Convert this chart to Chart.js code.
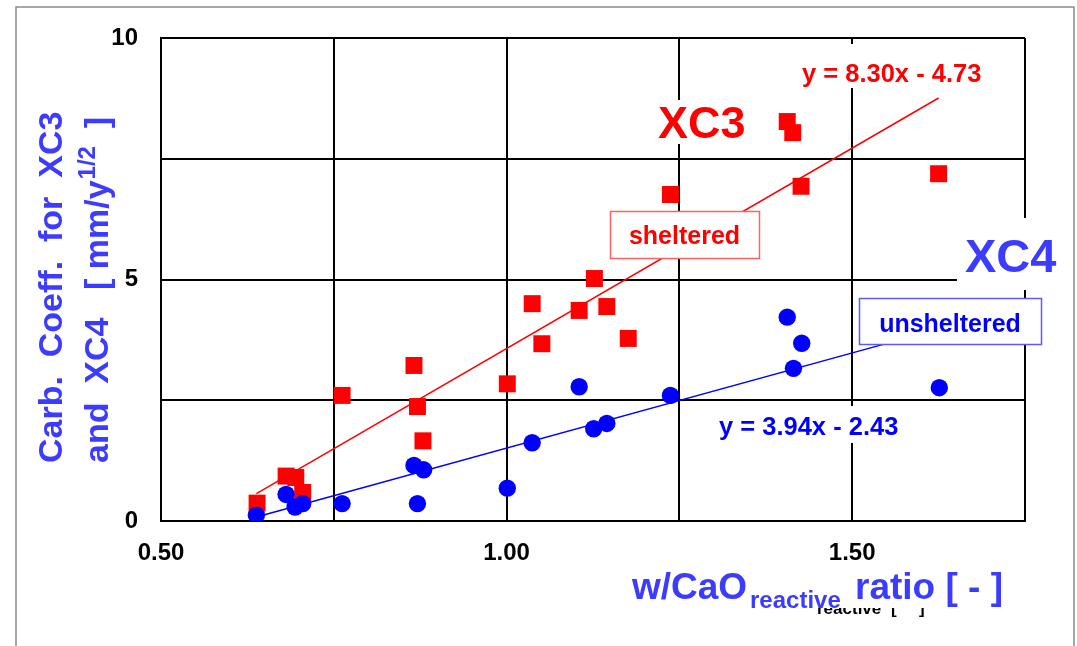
<!DOCTYPE html>
<html>
<head>
<meta charset="utf-8">
<script src="https://cdn.jsdelivr.net/npm/chart.js@4"></script>
<style>
  body { margin: 0; background: #fff; }
  #wrap { width: 1077px; height: 646px; }
</style>
</head>
<body>
<div id="wrap"><canvas id="myChart" width="1077" height="646"></canvas></div>
<script>
// XC3 (sheltered) carbonation coefficients
const xc3X = [0.639, 0.681, 0.695, 0.705, 0.762, 0.866, 0.871, 0.879, 1.001, 1.037,
              1.051, 1.105, 1.127, 1.145, 1.176, 1.237, 1.406, 1.414, 1.426, 1.625];
const xc3Y = [0.37, 0.93, 0.90, 0.59, 2.60, 3.22, 2.37, 1.66, 2.84, 4.50,
              3.67, 4.36, 5.02, 4.44, 3.78, 6.76, 8.27, 8.04, 6.93, 7.19];

// XC4 (unsheltered)
const xc4X = [0.638, 0.681, 0.694, 0.705, 0.762, 0.866, 0.871, 0.880, 1.001,
              1.037, 1.105, 1.126, 1.145, 1.237, 1.406, 1.415, 1.427, 1.626];
const xc4Y = [0.12, 0.55, 0.29, 0.36, 0.36, 1.15, 0.36, 1.06, 0.68,
              1.62, 2.78, 1.91, 2.02, 2.60, 4.22, 3.16, 3.68, 2.76];

// linear fits y = a*x + b, drawn over the data range
const fitSlope = [8.30, 3.94];
const fitIntercept = [-4.73, -2.43];
const fitRange = [0.638, 1.625];

const xTickLabels = ["0.50", "1.00", "1.50"];
const yTickLabels = ["0", "5", "10"];

const FONT = "'Liberation Sans', Arial, sans-serif";
const RED = "#ff0000";
const BLUE = "#0000ff";
const TITLE_BLUE = "#3c3cff";

const ctx = document.getElementById("myChart");

function toPoints(xs, ys) {
  return xs.map((x, i) => ({ x: x, y: ys[i] }));
}

function fitLine(i) {
  return fitRange.map((x) => ({ x: x, y: fitSlope[i] * x + fitIntercept[i] }));
}

function boxedText(c, text, x, base, opts) {
  c.font = opts.font;
  const w = c.measureText(text).width;
  if (opts.bg) {
    c.fillStyle = "#fff";
    c.fillRect(opts.bg[0], opts.bg[1], opts.bg[2], opts.bg[3]);
  }
  if (opts.border) {
    c.strokeStyle = opts.border;
    c.lineWidth = 1.5;
    c.strokeRect(opts.bg[0], opts.bg[1], opts.bg[2], opts.bg[3]);
  }
  c.fillStyle = opts.color;
  c.textBaseline = "alphabetic";
  c.textAlign = "left";
  c.fillText(text, opts.center ? x - w / 2 : x, base);
}

const decor = {
  id: "decor",
  beforeDraw(chart) {
    const c = chart.ctx;
    c.save();
    c.fillStyle = "#fff";
    c.fillRect(0, 0, chart.width, chart.height);
    // outer frame
    c.strokeStyle = "#8a8a8a";
    c.lineWidth = 1.5;
    c.beginPath();
    c.moveTo(16, 650);
    c.lineTo(16, 7);
    c.lineTo(1074, 7);
    c.lineTo(1074, 650);
    c.stroke();
    c.restore();
  },
  afterDraw(chart) {
    const c = chart.ctx;
    c.save();

    boxedText(c, "XC3", 658, 138, { font: "bold 45px " + FONT, color: RED, bg: [652, 100, 102, 44] });
    boxedText(c, "XC4", 965, 272, { font: "bold 47px " + FONT, color: TITLE_BLUE, bg: [957, 218, 108, 72] });
    boxedText(c, "y = 8.30x - 4.73", 802, 82, { font: "bold 25.5px " + FONT, color: RED, bg: [797, 44, 190, 44] });
    boxedText(c, "y = 3.94x - 2.43", 719, 435, { font: "bold 25.5px " + FONT, color: BLUE, bg: [714, 406, 192, 37] });
    boxedText(c, "sheltered", 684.5, 244, { font: "bold 25px " + FONT, color: RED, bg: [610.5, 211.5, 149, 47], border: "#ff6060", center: true });
    boxedText(c, "unsheltered", 950, 332, { font: "bold 25px " + FONT, color: BLUE, bg: [859.5, 298.5, 182, 46], border: "#5a5aff", center: true });

    // leftover black text peeking out under the x title
    c.save();
    c.beginPath();
    c.rect(800, 608, 140, 12);
    c.clip();
    c.fillStyle = "#000";
    c.font = "bold 17px " + FONT;
    c.fillText("reactive", 817, 614);
    c.fillText("[", 891, 614);
    c.fillText("]", 919, 614);
    c.restore();

    // x axis title with subscript
    const big = "bold 37px " + FONT;
    const small = "bold 24px " + FONT;
    c.fillStyle = TITLE_BLUE;
    c.font = big;
    c.fillText("w/CaO", 632, 599);
    c.font = small;
    c.fillText("reactive", 750, 608);
    c.font = big;
    c.fillText("ratio [ - ]", 855, 599);

    // y axis title, rotated, with superscript
    const yBig = "bold 34px " + FONT;
    const ySup = "bold 24px " + FONT;
    c.save();
    c.translate(62, 463);
    c.rotate(-Math.PI / 2);
    c.font = yBig;
    c.fillText("Carb.  Coeff.  for  XC3", 0, 0);
    c.restore();

    c.save();
    c.translate(108, 463);
    c.rotate(-Math.PI / 2);
    c.font = yBig;
    c.fillText("and  XC4", 0, 0);
    c.fillText("[ mm/y", 173, 0);
    let p = 173 + c.measureText("[ mm/y").width;
    c.font = ySup;
    c.fillText("1/2", p + 1, -13);
    c.font = yBig;
    const close = c.measureText("]").width;
    c.fillText("]", 346 - close, 0);
    c.restore();

    c.restore();
  },
};

new Chart(ctx, {
  type: "scatter",
  data: {
    datasets: [
      {
        label: "XC3",
        data: toPoints(xc3X, xc3Y),
        pointStyle: "rect",
        pointRadius: 12,
        pointBackgroundColor: RED,
        pointBorderWidth: 0,
        order: 4,
      },
      {
        label: "XC3 fit",
        type: "line",
        data: fitLine(0),
        borderColor: RED,
        borderWidth: 1.5,
        pointRadius: 0,
        order: 3,
      },
      {
        label: "XC4",
        data: toPoints(xc4X, xc4Y),
        pointStyle: "circle",
        pointRadius: 8.7,
        pointBackgroundColor: BLUE,
        pointBorderWidth: 0,
        order: 2,
      },
      {
        label: "XC4 fit",
        type: "line",
        data: fitLine(1),
        borderColor: BLUE,
        borderWidth: 1.5,
        pointRadius: 0,
        order: 1,
      },
    ],
  },
  options: {
    responsive: false,
    animation: false,
    devicePixelRatio: 1,
    layout: { padding: { left: 0, top: 38, right: 52, bottom: 0 } },
    plugins: { legend: { display: false }, tooltip: { enabled: false } },
    scales: {
      x: {
        type: "linear",
        min: 0.5,
        max: 1.75,
        afterFit: (s) => { s.height = 125; },
        grid: { color: "#000", lineWidth: 2, drawTicks: false },
        border: { color: "#000", width: 2 },
        ticks: {
          stepSize: 0.25,
          autoSkip: false,
          maxRotation: 0,
          padding: 18,
          color: "#000",
          font: { family: FONT, size: 24, weight: "bold" },
          callback: (v) => {
            const s = Number(v).toFixed(2);
            return xTickLabels.includes(s) ? s : "";
          },
        },
      },
      y: {
        min: 0,
        max: 10,
        afterFit: (s) => { s.width = 161; },
        grid: { color: "#000", lineWidth: 2, drawTicks: false },
        border: { color: "#000", width: 2 },
        ticks: {
          stepSize: 2.5,
          autoSkip: false,
          padding: 23,
          color: "#000",
          font: { family: FONT, size: 24, weight: "bold" },
          callback: (v) => {
            const s = String(v);
            return yTickLabels.includes(s) ? s : "";
          },
        },
      },
    },
  },
  plugins: [decor],
});
</script>
</body>
</html>
